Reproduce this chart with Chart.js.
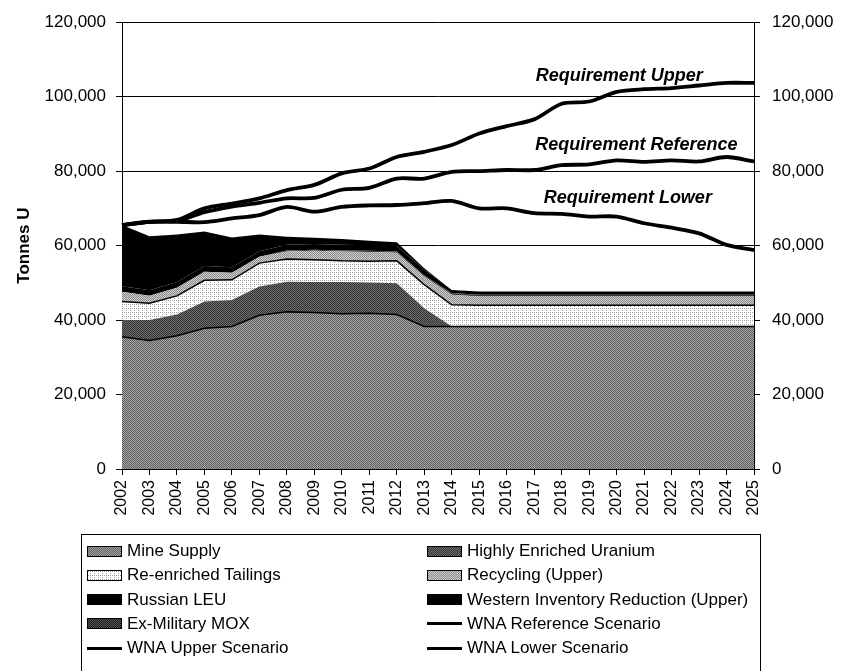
<!DOCTYPE html>
<html>
<head>
<meta charset="utf-8">
<script src="https://cdn.jsdelivr.net/npm/chart.js@4.4.1/dist/chart.umd.min.js"></script>
<style>
  body { margin: 0; background: #fff; }
  #wrap { position: relative; width: 842px; height: 671px; overflow: hidden; }
  #legendBox {
    position: absolute; left: 81px; top: 534px; width: 678px; height: 160px;
    border: 1px solid #000; font: 17px "Liberation Sans", Arial, sans-serif; color: #000;
  }
  .item { position: absolute; height: 20px; display: flex; align-items: center; white-space: nowrap; }
  .swatch { width: 35px; height: 11px; border: 1px solid #000; box-sizing: border-box; margin-right: 5px; }
  .lineSwatch { width: 35px; height: 3px; background: #000; margin-right: 5px; }
</style>
</head>
<body>
<div id="wrap">
  <canvas id="supplyChart" width="842" height="671"></canvas>
  <div id="legendBox"></div>
</div>
<script>
// categories
const years = ["2002","2003","2004","2005","2006","2007","2008","2009","2010","2011","2012","2013",
  "2014","2015","2016","2017","2018","2019","2020","2021","2022","2023","2024","2025"];

// supply (stacked areas), tonnes U
const mineSupply = [35500, 34500, 35800, 37800, 38300, 41300, 42200, 42000, 41700, 41800, 41500, 38300,
  38300, 38300, 38300, 38300, 38300, 38300, 38300, 38300, 38300, 38300, 38300, 38300];
const heu = [4500, 5500, 5700, 7200, 7100, 7700, 8100, 8200, 8500, 8300, 8400, 4900,
  0, 0, 0, 0, 0, 0, 0, 0, 0, 0, 0, 0];
const tailings = [5000, 4500, 5000, 5700, 5400, 6300, 6100, 6000, 5700, 5700, 6000, 6300,
  5800, 5700, 5700, 5700, 5700, 5700, 5700, 5700, 5700, 5700, 5700, 5700];
const recycling = [2600, 2000, 2200, 2300, 1900, 1700, 2000, 2400, 2500, 2500, 2200, 2200,
  2700, 2300, 2300, 2300, 2300, 2300, 2300, 2300, 2300, 2300, 2300, 2300];
const mox = [0, 0, 0, 0, 0, 0, 300, 300, 300, 300, 300, 300,
  500, 500, 500, 500, 500, 500, 500, 500, 500, 500, 500, 500];
const russianLeu = [1500, 1500, 1500, 1500, 1500, 1500, 1500, 1500, 1500, 1500, 1500, 1500,
  800, 900, 900, 900, 900, 900, 900, 900, 900, 900, 900, 900];
const westernInventory = [16400, 14500, 12800, 9300, 8000, 4500, 2200, 1700, 1600, 1200, 1000, 400,
  0, 0, 0, 0, 0, 0, 0, 0, 0, 0, 0, 0];

// requirement scenarios (lines)
const wnaUpper = [65500, 66400, 66900, 70000, 71300, 72700, 74900, 76300, 79400, 80700, 83800, 85200,
  87000, 90100, 92100, 93900, 98100, 98700, 101300, 102000, 102300, 103000, 103700, 103700];
const wnaReference = [65500, 66400, 66600, 69000, 70500, 71500, 72700, 72800, 75000, 75500, 78000, 78000,
  79800, 80000, 80300, 80300, 81600, 81800, 82900, 82500, 82900, 82600, 83800, 82600];
const wnaLower = [65500, 66400, 66400, 66300, 67300, 68200, 70400, 69100, 70400, 70800, 70900, 71400,
  72000, 70000, 70000, 68700, 68500, 67800, 67800, 66000, 64800, 63300, 60200, 58800];

const yTicks = [0, 20000, 40000, 60000, 80000, 100000, 120000];

// text labels placed on the lines (category index, value)
const noteText = ["Requirement Upper", "Requirement Reference", "Requirement Lower"];
const noteAt = [18.1, 18.72, 18.41];
const noteValue = [105600, 86900, 72800];

const FONT = '"Liberation Sans", Arial, sans-serif';
Chart.defaults.font.family = FONT;
Chart.defaults.font.size = 16;
Chart.defaults.color = "#000";

// small ordered-dither tiles to imitate the printed grey fills
const BAYER = [0, 8, 2, 10, 12, 4, 14, 6, 3, 11, 1, 9, 15, 7, 13, 5];
function makeTexture(base, dots, level) {
  const c = document.createElement("canvas");
  c.width = 4; c.height = 4;
  const g = c.getContext("2d");
  g.fillStyle = base;
  g.fillRect(0, 0, 4, 4);
  g.fillStyle = dots;
  for (let i = 0; i < 16; i++) {
    if (BAYER[i] < level) g.fillRect(i % 4, Math.floor(i / 4), 1, 1);
  }
  return c;
}

const tiles = {
  mine: makeTexture("#a6a6a6", "#5e5e5e", 8),
  heu: makeTexture("#6e6e6e", "#333333", 8),
  tailings: makeTexture("#ffffff", "#a0a0a0", 3),
  recycling: makeTexture("#cfcfcf", "#8a8a8a", 8),
  mox: makeTexture("#555555", "#1e1e1e", 8)
};

function fillFor(tile) {
  if (typeof tile === "string") return tile;
  return document.createElement("canvas").getContext("2d").createPattern(tile, "repeat");
}

function area(label, data, tile, idx, border) {
  return {
    label: label, data: data, yAxisID: "y", tile: tile,
    backgroundColor: fillFor(tile), borderColor: "#000",
    borderWidth: border ? 1.5 : 0,
    fill: idx === 0 ? "origin" : "-1",
    pointRadius: 0, tension: 0
  };
}

function line(label, data) {
  return {
    label: label, data: data, yAxisID: "y2", order: -1,
    borderColor: "#000", backgroundColor: "#000", borderWidth: 3.8,
    fill: false, pointRadius: 0, tension: 0.3
  };
}

const datasets = [
  area("Mine Supply", mineSupply, tiles.mine, 0, true),
  area("Highly Enriched Uranium", heu, tiles.heu, 1, false),
  area("Re-enriched Tailings", tailings, tiles.tailings, 2, true),
  area("Recycling (Upper)", recycling, tiles.recycling, 3, false),
  area("Ex-Military MOX", mox, tiles.mox, 4, false),
  area("Russian LEU", russianLeu, "#000", 5, false),
  area("Western Inventory Reduction (Upper)", westernInventory, "#000", 6, false),
  line("WNA Reference Scenario", wnaReference),
  line("WNA Upper Scenario", wnaUpper),
  line("WNA Lower Scenario", wnaLower)
];

const notesPlugin = {
  id: "requirementNotes",
  afterDatasetsDraw(chart) {
    const ctx = chart.ctx;
    ctx.save();
    ctx.font = "italic bold 18px " + FONT;
    ctx.fillStyle = "#000";
    ctx.textAlign = "center";
    ctx.textBaseline = "middle";
    for (let i = 0; i < noteText.length; i++) {
      ctx.fillText(noteText[i], chart.scales.x.getPixelForValue(noteAt[i]),
        chart.scales.y.getPixelForValue(noteValue[i]));
    }
    ctx.restore();
  }
};

function valueAxis(position, width, pad, onArea) {
  return {
    position: position, min: 0, max: 120000,
    stacked: position === "left",
    afterBuildTicks: (s) => { s.ticks = yTicks.map((v) => ({ value: v })); },
    afterFit: (s) => { s.width = width; },
    grid: { color: "#000", lineWidth: 1, drawOnChartArea: onArea, tickLength: 6 },
    border: { color: "#000", width: 1 },
    ticks: { padding: pad, font: { size: 17 }, callback: (v) => v.toLocaleString("en-US") }
  };
}

const chart = new Chart(document.getElementById("supplyChart"), {
  type: "line",
  data: { labels: years, datasets: datasets },
  options: {
    responsive: false,
    animation: false,
    layout: { padding: { top: 19, left: 0, right: 0, bottom: 0 } },
    plugins: { legend: { display: false }, tooltip: { enabled: false } },
    scales: {
      x: {
        offset: false,
        afterFit: (s) => { s.height = 202; },
        grid: { drawOnChartArea: false, color: "#000", tickLength: 6 },
        border: { color: "#000", width: 1 },
        ticks: { autoSkip: false, minRotation: 90, maxRotation: 90, padding: 5, font: { size: 16 } }
      },
      y: Object.assign(valueAxis("left", 122, 10, true), {
        title: { display: true, text: "Tonnes U", font: { size: 17, weight: "bold" }, padding: { top: 14 } }
      }),
      y2: valueAxis("right", 88, 12, false)
    }
  },
  plugins: [notesPlugin]
});

// legend in two columns, read row by row
function buildLegend() {
  const box = document.getElementById("legendBox");
  const order = [0, 1, 2, 3, 5, 6, 4, 7, 8, 9];
  order.forEach((dsIndex, k) => {
    const ds = chart.data.datasets[dsIndex];
    const col = k % 2, row = Math.floor(k / 2);
    const item = document.createElement("div");
    item.className = "item";
    item.style.left = (col === 0 ? 5 : 345) + "px";
    item.style.top = (6 + row * 24.25) + "px";
    const sw = document.createElement("span");
    if (ds.fill === false) {
      sw.className = "lineSwatch";
    } else {
      sw.className = "swatch";
      if (typeof ds.tile === "string") sw.style.background = ds.tile;
      else sw.style.backgroundImage = "url(" + ds.tile.toDataURL() + ")";
    }
    item.appendChild(sw);
    item.appendChild(document.createTextNode(ds.label));
    box.appendChild(item);
  });
}
buildLegend();
</script>
</body>
</html>
